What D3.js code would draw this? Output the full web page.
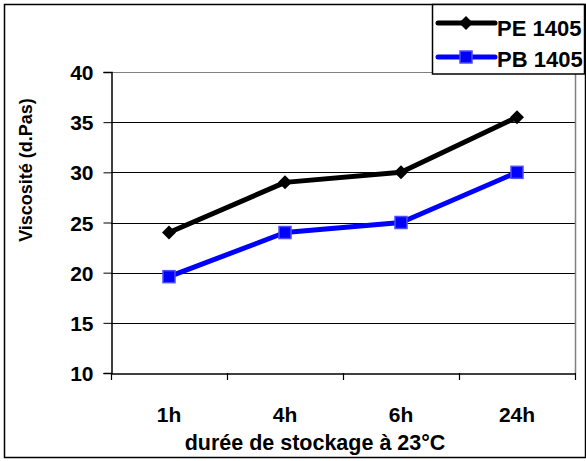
<!DOCTYPE html>
<html><head><meta charset="utf-8">
<script src="https://cdn.jsdelivr.net/npm/d3@7"></script>
<style>body{margin:0;background:#fff}svg{display:block}text{font-family:Arial,"Liberation Sans",sans-serif;font-weight:bold}</style>
</head><body>
<script>
const categories = ["1h","4h","6h","24h"];
const pe1405 = [24, 29, 30, 35.5];
const pb1405 = [19.6, 24, 25, 30];
const yTicks = [10,15,20,25,30,35,40];
const seriesNames = ["PE 1405","PB 1405"];

const W=586,H=461;
const svg=d3.select("body").append("svg").attr("width",W).attr("height",H);
svg.append("rect").attr("x",4.5).attr("y",4.5).attr("width",W-5).attr("height",H-8)
  .attr("fill","#fff").attr("stroke","#000").attr("stroke-width",1.5);

const L=111,R=575,T=72,B=373;
const x=d3.scaleBand().domain(categories).range([L,R]).padding(0);
const y=d3.scaleLinear().domain([10,40]).range([B,T]);

// gridlines
svg.append("g").selectAll("line").data(yTicks.filter(d=>d>10)).join("line")
  .attr("x1",L).attr("x2",R).attr("y1",d=>Math.round(y(d))+0.5).attr("y2",d=>Math.round(y(d))+0.5)
  .attr("stroke",d=>d===40?"#808080":"#000").attr("stroke-width",1);
svg.append("line").attr("x1",R+0.5).attr("x2",R+0.5).attr("y1",T).attr("y2",B)
  .attr("stroke","#808080").attr("stroke-width",1.5);

// y axis
const ya=svg.append("g").attr("transform",`translate(${L+0.5},0)`)
  .call(d3.axisLeft(y).tickValues(yTicks).tickSize(8).tickPadding(10));
ya.select(".domain").attr("stroke","#000").attr("stroke-width",1.5);
ya.selectAll(".tick line").attr("stroke","#000");
ya.selectAll("text").style("font-size","21px").attr("fill","#000").attr("dy","0.36em");

// x axis
const xa=svg.append("g").attr("transform",`translate(0,${B+0.5})`)
  .call(d3.axisBottom(x).tickSize(0).tickPadding(0));
xa.select(".domain").attr("stroke","#000").attr("stroke-width",1.5);
xa.selectAll("text").style("font-size","21px").attr("fill","#000").attr("dy",null).attr("y",48);
// tick marks at category boundaries
svg.append("g").selectAll("line").data(categories.concat(["end"])).join("line")
  .attr("x1",(d,i)=>L+i*x.bandwidth()+0.5).attr("x2",(d,i)=>L+i*x.bandwidth()+0.5)
  .attr("y1",B).attr("y2",B+7).attr("stroke","#000").attr("stroke-width",1.2);

// titles
svg.append("text").attr("x",315).attr("y",450).attr("text-anchor","middle")
  .style("font-size","21.5px").text("durée de stockage à 23°C");
svg.append("text").attr("transform","translate(32,170) rotate(-90)").attr("text-anchor","middle")
  .style("font-size","18px").text("Viscosité (d.Pas)");

const cx=d=>x(d)+x.bandwidth()/2;
const line=d3.line().x((d,i)=>cx(categories[i])).y(d=>y(d));
svg.append("path").datum(pe1405).attr("d",line).attr("fill","none").attr("stroke","#000").attr("stroke-width",5).attr("stroke-linejoin","round");
svg.append("path").datum(pb1405).attr("d",line).attr("fill","none").attr("stroke","#0000ff").attr("stroke-width",5).attr("stroke-linejoin","round");

const diamond=(g,px,py)=>g.append("path").attr("d",`M${px},${py-7}L${px+7},${py}L${px},${py+7}L${px-7},${py}Z`).attr("fill","#000");
const square=(g,px,py)=>g.append("rect").attr("x",px-6).attr("y",py-6).attr("width",12).attr("height",12)
  .attr("fill","#0000ff").attr("stroke","#4d4dff").attr("stroke-width",1.5);
pe1405.forEach((v,i)=>diamond(svg,cx(categories[i]),y(v)));
pb1405.forEach((v,i)=>square(svg,cx(categories[i]),y(v)));

// legend
const lg=svg.append("g");
lg.append("rect").attr("x",432.5).attr("y",4.5).attr("width",152).attr("height",69.5).attr("fill","#fff").attr("stroke","#000").attr("stroke-width",1.5);
const rows=[{n:seriesNames[0],c:"#000",y:23,b:36},{n:seriesNames[1],c:"#0000ff",y:57,b:67}];
rows.forEach((r,i)=>{
  lg.append("line").attr("x1",438).attr("x2",495).attr("y1",r.y).attr("y2",r.y).attr("stroke",r.c).attr("stroke-width",5).attr("stroke-linecap","round");
  if(i===0) diamond(lg,466,r.y); else square(lg,466,r.y);
  lg.append("text").attr("x",497).attr("y",r.b).style("font-size","22px").text(r.n);
});
</script>
</body></html>
